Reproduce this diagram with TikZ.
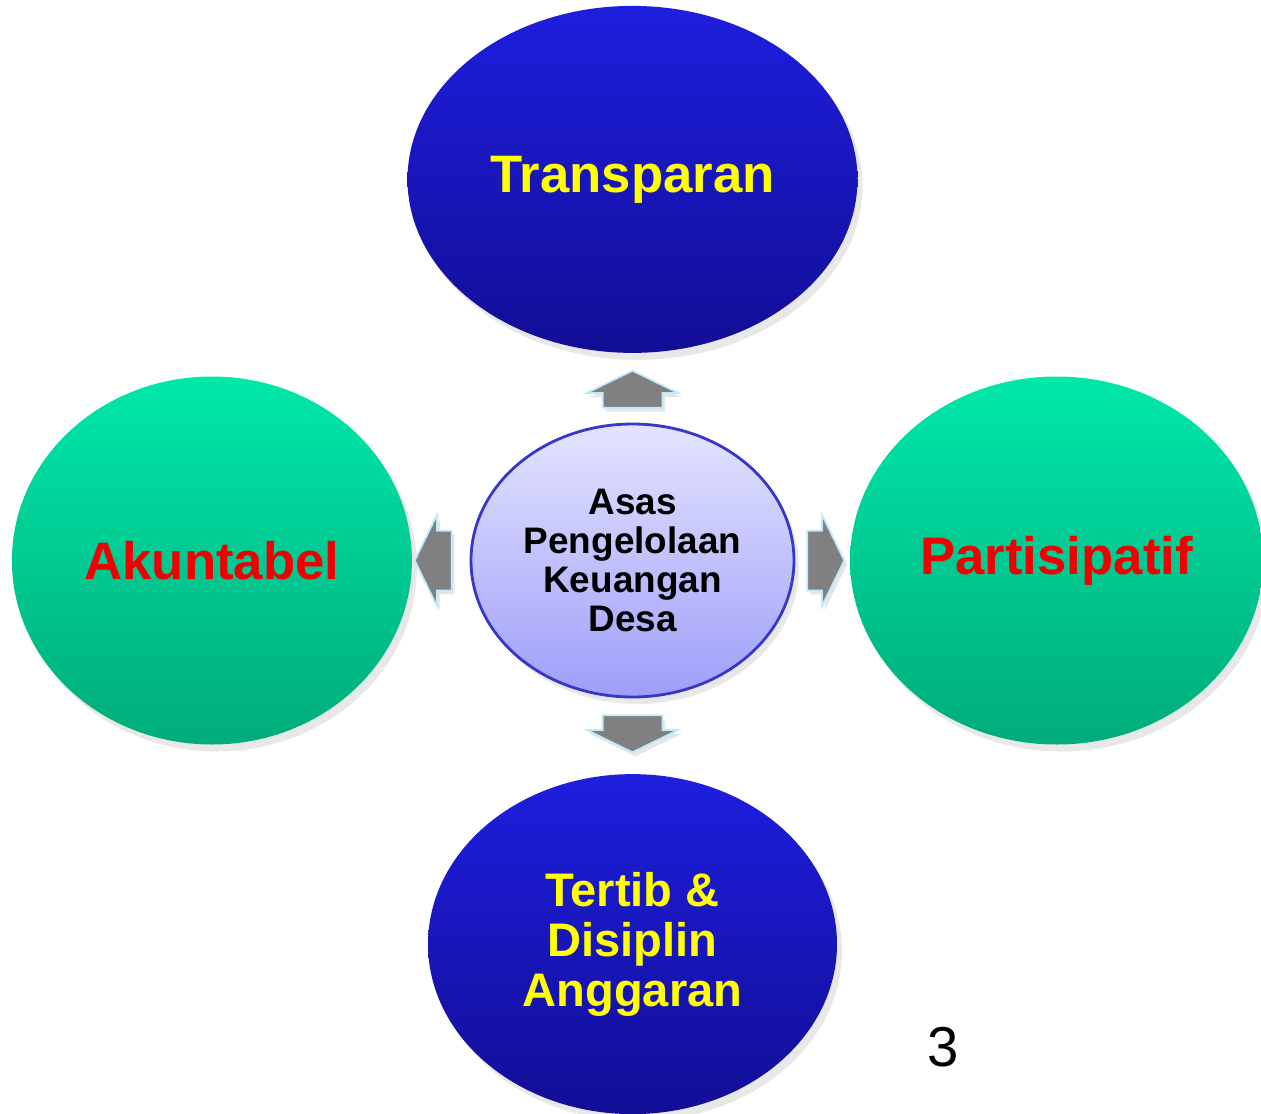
\documentclass[tikz,border=0pt]{standalone}
\usepackage{fontspec}
\setmainfont{Liberation Sans}
\usetikzlibrary{positioning, shapes.geometric, shapes.arrows, shadows, calc}
\definecolor{bluetop}{RGB}{30,30,222}
\definecolor{bluebot}{RGB}{18,14,150}
\definecolor{greentop}{RGB}{0,232,170}
\definecolor{greenbot}{RGB}{0,172,122}
\definecolor{midtop}{RGB}{228,228,255}
\definecolor{midbot}{RGB}{158,158,250}
\definecolor{midline}{RGB}{55,55,200}
\definecolor{labelyellow}{RGB}{255,255,0}
\definecolor{labelred}{RGB}{240,0,0}
\definecolor{arrowgray}{RGB}{128,128,128}
\tikzset{
  bubble/.style={ellipse, inner sep=0pt, align=center, top color=#1top, bottom color=#1bot,
      drop shadow={opacity=0.18, shadow xshift=0.05cm, shadow yshift=-0.07cm}},
  bluebubble/.style={bubble=blue, text=labelyellow, font=\fontsize{13.4}{14.2}\selectfont\bfseries},
  greenbubble/.style={bubble=green, text=labelred, font=\fontsize{15}{17}\selectfont\bfseries},
  midbubble/.style={bubble=mid, draw=midline, line width=0.8pt,
      font=\fontsize{10.5}{11.1}\selectfont\bfseries},
  grayarrow/.style={single arrow, draw=white!75!cyan, fill=arrowgray, line width=0.5pt,
      minimum height=0.37cm, single arrow head extend=0.16cm, single arrow tip angle=128,
      shape border rotate=#1, anchor=tail,
      drop shadow={opacity=0.2, shadow xshift=0.03cm, shadow yshift=-0.04cm}},
  hgrayarrow/.style={grayarrow=#1, inner xsep=0pt, inner ysep=0.29cm},
  vgrayarrow/.style={grayarrow=#1, inner xsep=0.29cm, inner ysep=0pt},
}

\begin{document}
\begin{tikzpicture}
      \useasboundingbox (0,0) rectangle (12.61,-11.14);
      \node[midbubble, minimum width=3.23cm, minimum height=2.73cm] (asas) at (6.325,-5.605)
          {Asas\\Pengelolaan\\Keuangan\\Desa};
      \node[bluebubble, minimum width=4.5cm, minimum height=3.47cm, above=0.69cm of asas,
          font=\fontsize{15}{17}\selectfont\bfseries] (transparan) {Transparan};
      \node[greenbubble, minimum width=4.0cm, minimum height=3.68cm, left=0.57cm of asas] (akuntabel) {Akuntabel};
      \node[greenbubble, minimum width=4.13cm, minimum height=3.68cm, right=0.54cm of asas] (partisipatif) {Partisipatif};
      \node[bluebubble, minimum width=4.09cm, minimum height=3.4cm, below=0.75cm of asas] (tertib)
          {Tertib \&\\Disiplin\\Anggaran};
      % block arrows between the bubbles
      \node[vgrayarrow=90] (aup) at ($(asas.north)+(0,0.14)$) {};
      \node[hgrayarrow=180] (aleft) at ($(asas.west)+(-0.17,0)$) {};
      \node[hgrayarrow=0] (aright) at ($(asas.east)+(0.11,0)$) {};
      \node[vgrayarrow=270] (adown) at ($(asas.south)+(0,-0.16)$) {};
      \node[font=\fontsize{16}{19}\selectfont] (pagenum) at (9.43,-10.47) {3};
    \end{tikzpicture}
\end{document}
